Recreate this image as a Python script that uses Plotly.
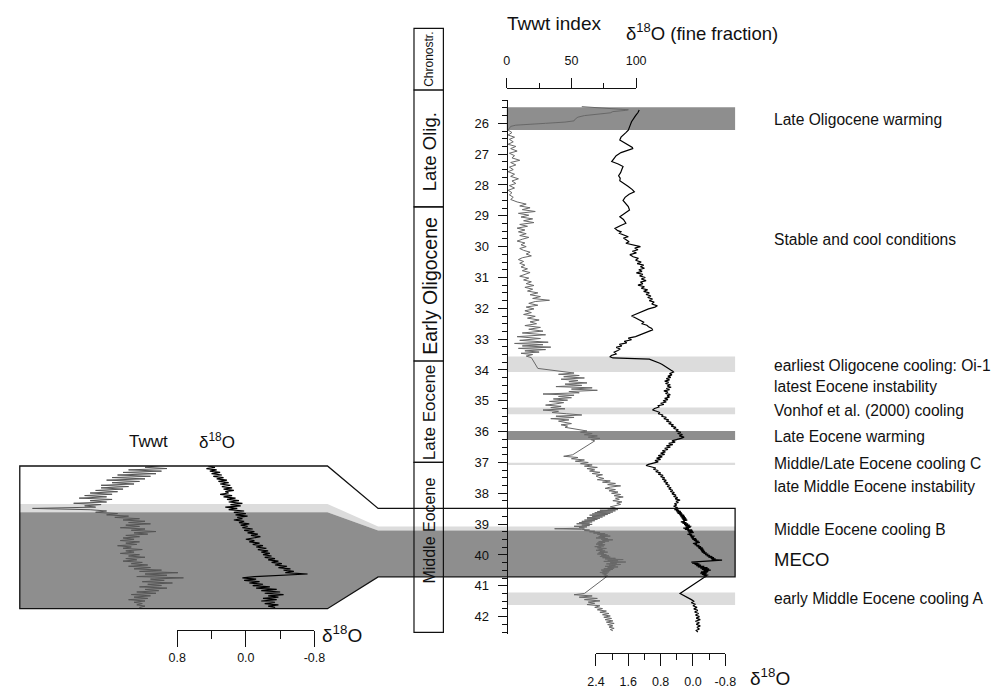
import plotly.graph_objects as go

W, H = 995, 691
FONT = "Liberation Sans, Arial, Helvetica, sans-serif"

# ---------------- data ----------------
twwt_age = [25.46, 25.50, 25.53, 25.56, 25.58, 25.62, 25.66, 25.70, 25.75, 25.80, 25.86, 25.92, 25.96, 26.00, 26.03, 26.06, 26.10, 26.15, 26.22,
            26.30, 26.38, 26.45, 26.52, 26.60, 26.68, 26.75, 26.82, 26.90, 26.97, 27.05, 27.12, 27.20, 27.27, 27.35, 27.42, 27.50, 27.57, 27.65, 27.72, 27.80, 27.87, 27.95, 28.02, 28.10, 28.17, 28.25, 28.32, 28.40, 28.47,
            28.55, 28.62, 28.68, 28.74, 28.80, 28.86, 28.92, 28.98, 29.04, 29.10, 29.16, 29.22, 29.28, 29.34, 29.40, 29.46,
            29.52, 29.58, 29.64, 29.70, 29.76, 29.82, 29.88, 29.94, 30.00, 30.06, 30.12, 30.18, 30.24, 30.30, 30.36, 30.42, 30.48, 30.54, 30.60,
            30.66, 30.72, 30.78, 30.84, 30.90, 30.96, 31.02, 31.08, 31.14, 31.20, 31.26, 31.32, 31.38, 31.44, 31.50,
            31.56, 31.62, 31.68, 31.74, 31.78, 31.84, 31.90, 31.96, 32.02, 32.08, 32.14, 32.20, 32.26, 32.32, 32.38, 32.44, 32.50, 32.56, 32.62, 32.68, 32.74, 32.80, 32.86, 32.92, 32.98, 33.04, 33.10, 33.14, 33.18, 33.22, 33.26, 33.30, 33.34, 33.38, 33.42, 33.46, 33.50, 33.55,
            33.60, 33.95, 34.02,
            34.06, 34.10, 34.14, 34.18, 34.22, 34.26, 34.30, 34.34, 34.38, 34.42, 34.46, 34.50, 34.54, 34.58, 34.62, 34.66, 34.70, 34.74, 34.78, 34.82, 34.86, 34.90, 34.94, 34.98, 35.02, 35.06, 35.10, 35.14, 35.18, 35.22, 35.26, 35.30, 35.34, 35.38,
            35.42, 35.46, 35.50, 35.54, 35.58, 35.62, 35.66, 35.70, 35.74, 35.78, 35.82, 35.86,
            35.90, 35.94, 35.98, 36.02, 36.06, 36.10, 36.14, 36.18, 36.22, 36.26, 36.30,
            36.75, 36.80, 36.84, 36.88, 36.92, 36.96, 37.00, 37.04, 37.08, 37.12, 37.16, 37.20, 37.24, 37.28, 37.32, 37.36, 37.40, 37.44, 37.48,
            37.52, 37.56, 37.60, 37.64, 37.68, 37.72, 37.76, 37.80, 37.84, 37.88, 37.92, 37.96, 38.00, 38.04, 38.08, 38.12, 38.16, 38.20, 38.24, 38.28, 38.32, 38.36, 38.40, 38.44,
            38.48, 38.51, 38.53, 38.55, 38.57, 38.59, 38.61, 38.63, 38.65, 38.67, 38.69, 38.71, 38.73, 38.75, 38.77, 38.79, 38.81, 38.83, 38.85, 38.87, 38.89, 38.91, 38.93, 38.95, 38.97, 38.99,
            39.01, 39.03, 39.05, 39.07, 39.09, 39.11, 39.13, 39.15, 39.17, 39.19, 39.21, 39.23, 39.25, 39.27, 39.29, 39.31, 39.33, 39.35, 39.37, 39.39, 39.41, 39.43, 39.45, 39.47, 39.49,
            39.51, 39.53, 39.55, 39.57, 39.59, 39.61, 39.63, 39.65, 39.67, 39.69, 39.71, 39.73, 39.75, 39.77, 39.79, 39.81, 39.83, 39.85, 39.87, 39.89, 39.91, 39.93, 39.95, 39.97, 39.99,
            40.01, 40.03, 40.05, 40.07, 40.09, 40.11, 40.13, 40.15, 40.17, 40.19, 40.21, 40.23, 40.25, 40.27, 40.29, 40.31, 40.33, 40.35, 40.37, 40.39, 40.41, 40.43, 40.45, 40.47, 40.49,
            40.51, 40.53, 40.55, 40.57, 40.59, 40.61, 40.63, 40.65, 40.67, 40.69, 40.71,
            41.25, 41.29, 41.33, 41.37, 41.41, 41.45, 41.49, 41.53, 41.57, 41.61, 41.65, 41.70,
            41.74, 41.78, 41.82, 41.86, 41.90, 41.94, 41.98, 42.02, 42.06, 42.10, 42.14, 42.18, 42.22, 42.26, 42.30, 42.34, 42.38, 42.42, 42.46]
twwt = [58, 75, 88, 94, 92, 82, 80, 72, 60, 55, 53, 52, 45, 30, 15, 7, 3, 2, 1,
        4, 1, 6, 2, 5, 1, 7, 3, 8, 2, 6, 4, 10, 3, 7, 2, 5, 1, 6, 3, 9, 4, 7, 2, 6, 1, 4, 2, 5, 3,
        8, 15, 10, 18, 12, 22, 9, 17, 11, 20, 13, 21, 10, 16, 8, 14,
        9, 15, 10, 17, 12, 8, 14, 11, 15, 10, 13, 18, 15, 19, 12, 9, 13, 10, 14,
        11, 16, 12, 18, 14, 10, 17, 13, 19, 15, 21, 14, 20, 16, 24,
        18, 26, 20, 33, 22, 17, 24, 15, 21, 14, 19, 13, 22, 16, 25, 18, 23, 14, 26, 17, 28, 12, 30, 8, 26, 10, 32, 6, 28, 12, 34, 9, 30, 14, 25, 11, 20, 15,
        19, 24, 38,
        45, 52, 40, 56, 44, 60, 42, 55, 48, 62, 45, 58, 38, 66, 50, 70, 48, 56, 28, 52, 40, 50, 36, 47, 33, 44, 38, 30, 42, 34, 45, 28, 40, 35,
        46, 58, 38, 52, 34, 48, 40, 44, 50, 42, 47, 45,
        52, 58, 62, 57, 66, 60, 70, 63, 72, 65, 68,
        51, 44, 55, 50, 60, 53, 63, 57, 66, 60, 70, 62, 68, 64, 72, 66, 74, 69, 71,
        75, 70, 80, 74, 84, 78, 88, 80, 76, 84, 79, 86, 81, 88, 83, 90, 84, 87, 82, 89, 85, 88, 84, 80,
        84, 78, 86, 72, 84, 70, 82, 68, 80, 66, 78, 64, 76, 66, 74, 62, 72, 62, 70, 60, 68, 58, 66, 56, 64, 54,
        66, 58, 64, 52, 62, 56, 60, 37, 58, 64, 60, 68, 64, 72, 67, 76, 70, 78, 72, 80, 71, 76, 69, 78, 73,
        82, 74, 79, 71, 76, 70, 74, 69, 76, 71, 75, 68, 73, 70, 77, 71, 74, 69, 76, 72, 78, 71, 75, 70, 77,
        73, 79, 72, 80, 74, 84, 76, 90, 78, 86, 75, 92, 80, 85, 77, 88, 79, 84, 76, 86, 78, 83, 75, 82, 73,
        80, 74, 79, 72, 78, 74, 77, 75, 78, 76, 77,
        60, 52, 66, 56, 70, 60, 72, 63, 68, 62, 72, 68,
        74, 70, 77, 72, 79, 74, 80, 75, 81, 76, 82, 77, 83, 78, 82, 79, 83, 80, 82]

d18o_age = [25.57, 25.65, 25.75, 25.85, 25.95, 26.05, 26.15, 26.22, 26.30, 26.38, 26.45, 26.54, 26.62, 26.70, 26.78, 26.82, 26.88, 26.95, 27.05, 27.15, 27.24, 27.32, 27.40, 27.50, 27.60, 27.70, 27.78, 27.86, 27.95,
            28.05, 28.15, 28.22, 28.30, 28.40, 28.50, 28.60, 28.70, 28.81, 28.92, 29.03, 29.12, 29.24, 29.32, 29.41, 29.48, 29.52, 29.57, 29.62, 29.68, 29.72, 29.78, 29.84, 29.89, 29.94,
            30.00, 30.05, 30.10, 30.15, 30.20, 30.26, 30.33, 30.38, 30.44, 30.50, 30.55, 30.60, 30.65, 30.70, 30.75, 30.80, 30.85, 30.90, 30.95,
            31.00, 31.05, 31.10, 31.15, 31.20, 31.25, 31.30, 31.35, 31.40, 31.45, 31.50, 31.55, 31.60, 31.65, 31.70, 31.75, 31.80, 31.86, 31.92, 31.96,
            32.02, 32.08, 32.14, 32.20, 32.25, 32.30, 32.35, 32.40, 32.45, 32.50, 32.55, 32.60, 32.65, 32.70, 32.75, 32.80, 32.86, 32.92, 32.97,
            33.02, 33.07, 33.12, 33.17, 33.22, 33.27, 33.32, 33.37, 33.42, 33.48, 33.53, 33.57, 33.61, 33.65, 33.70, 33.74, 33.78, 33.82, 33.86, 33.90, 33.95, 34.00, 34.04, 34.07,
            34.12, 34.16, 34.20, 34.24, 34.28, 34.32, 34.36, 34.40, 34.44, 34.48, 34.52, 34.56, 34.60, 34.64, 34.68, 34.72, 34.76, 34.80, 34.84, 34.88, 34.92, 34.96,
            35.00, 35.04, 35.08, 35.12, 35.16, 35.20, 35.25, 35.30, 35.34, 35.38, 35.42, 35.46, 35.50, 35.54, 35.58, 35.62, 35.66, 35.70, 35.74, 35.78, 35.82, 35.86, 35.90, 35.94, 35.98,
            36.02, 36.06, 36.10, 36.14, 36.18, 36.22, 36.26, 36.30, 36.34, 36.38, 36.42, 36.46, 36.50, 36.54, 36.58, 36.62, 36.66, 36.70, 36.74, 36.78, 36.82, 36.86, 36.90, 36.94, 36.98,
            37.02, 37.06, 37.10, 37.14, 37.18, 37.22, 37.26, 37.30, 37.34, 37.38, 37.42, 37.46, 37.50, 37.54, 37.58, 37.62, 37.66, 37.70, 37.74, 37.78, 37.82, 37.86, 37.90, 37.94, 37.98,
            38.02, 38.06, 38.10, 38.14, 38.18, 38.22, 38.26, 38.30, 38.34, 38.38, 38.42, 38.46,
            38.49, 38.51, 38.53, 38.55, 38.57, 38.59, 38.61, 38.63, 38.65, 38.67, 38.69, 38.71, 38.73, 38.75, 38.77, 38.79, 38.81, 38.83, 38.85, 38.87, 38.89, 38.91, 38.93, 38.95, 38.97, 38.99,
            39.01, 39.03, 39.05, 39.07, 39.09, 39.11, 39.13, 39.15, 39.17, 39.19, 39.21, 39.23, 39.25, 39.27, 39.29, 39.31, 39.33, 39.35, 39.37, 39.39, 39.41, 39.43, 39.45, 39.47, 39.49,
            39.51, 39.53, 39.55, 39.57, 39.59, 39.61, 39.63, 39.65, 39.67, 39.69, 39.71, 39.73, 39.75, 39.77, 39.79, 39.81, 39.83, 39.85, 39.87, 39.89, 39.91, 39.93, 39.95, 39.97, 39.99,
            40.01, 40.03, 40.05, 40.07, 40.09, 40.11, 40.13, 40.15, 40.17, 40.19, 40.21, 40.23, 40.25, 40.27, 40.29, 40.31, 40.33, 40.35, 40.37, 40.39, 40.41, 40.43, 40.45, 40.47, 40.49,
            40.51, 40.53, 40.55, 40.57, 40.59, 40.61, 40.63, 40.65, 40.67, 40.69, 40.71,
            41.25, 41.30, 41.35, 41.40, 41.45, 41.50, 41.55, 41.60, 41.65, 41.70, 41.75, 41.80, 41.85, 41.90, 41.95, 42.00, 42.05, 42.10, 42.15, 42.20, 42.25, 42.30, 42.35, 42.40, 42.45, 42.50]
d18o = [1.33, 1.36, 1.42, 1.48, 1.52, 1.55, 1.58, 1.60, 1.66, 1.72, 1.78, 1.81, 1.70, 1.60, 1.50, 1.49, 1.62, 1.78, 1.90, 1.97, 2.01, 1.85, 1.73, 1.76, 1.79, 1.84, 1.80, 1.81, 1.70,
        1.60, 1.50, 1.45, 1.58, 1.68, 1.73, 1.66, 1.60, 1.57, 1.70, 1.81, 1.72, 1.66, 1.80, 1.93, 1.86, 1.78, 1.82, 1.70, 1.60, 1.72, 1.64, 1.58, 1.66, 1.45,
        1.30, 1.44, 1.36, 1.50, 1.40, 1.56, 1.48, 1.35, 1.42, 1.28, 1.38, 1.22, 1.30, 1.20, 1.34, 1.26, 1.40, 1.24, 1.32,
        1.18, 1.28, 1.16, 1.30, 1.24, 1.36, 1.20, 1.28, 1.12, 1.22, 1.08, 1.16, 1.04, 1.12, 1.00, 1.08, 0.96, 1.02, 0.88, 0.94,
        1.10, 1.20, 1.30, 1.42, 1.52, 1.44, 1.36, 1.30, 1.22, 1.26, 1.14, 1.10, 1.02, 1.00, 1.10, 1.22, 1.30, 1.42, 1.60,
        1.52, 1.70, 1.64, 1.82, 1.76, 1.90, 1.80, 1.86, 1.95, 1.90, 2.02, 2.05, 1.98, 1.08, 0.96, 0.88, 0.82, 0.76, 0.72, 0.66, 0.60, 0.55, 0.50, 0.48,
        0.58, 0.52, 0.62, 0.55, 0.66, 0.58, 0.70, 0.60, 0.68, 0.56, 0.64, 0.54, 0.66, 0.58, 0.72, 0.62, 0.68, 0.56, 0.64, 0.58, 0.70, 0.62,
        0.74, 0.66, 0.80, 0.72, 0.86, 0.84, 0.95, 1.00, 0.90, 0.82, 0.86, 0.74, 0.78, 0.66, 0.72, 0.60, 0.66, 0.54, 0.60, 0.48, 0.54, 0.42, 0.48, 0.36, 0.42,
        0.30, 0.38, 0.26, 0.34, 0.22, 0.30, 0.40, 0.52, 0.44, 0.60, 0.50, 0.66, 0.56, 0.70, 0.62, 0.76, 0.68, 0.80, 0.70, 0.86, 0.76, 0.90, 0.80, 0.94, 0.86,
        1.02, 1.10, 1.16, 1.02, 0.92, 0.98, 0.86, 0.92, 0.80, 0.86, 0.74, 0.80, 0.70, 0.76, 0.66, 0.72, 0.62, 0.68, 0.58, 0.64, 0.54, 0.60, 0.50, 0.56, 0.46,
        0.52, 0.42, 0.48, 0.38, 0.44, 0.32, 0.42, 0.36, 0.46, 0.40, 0.48, 0.38,
        0.44, 0.36, 0.46, 0.34, 0.42, 0.30, 0.40, 0.28, 0.38, 0.26, 0.34, 0.22, 0.32, 0.20, 0.30, 0.18, 0.28, 0.16, 0.26, 0.14, 0.24, 0.20, 0.30, 0.16, 0.26, 0.12,
        0.22, 0.08, 0.20, 0.04, 0.18, 0.06, 0.24, 0.10, 0.20, 0.02, 0.14, 0.00, 0.12, -0.02, 0.10, 0.04, 0.14, 0.02, 0.08, -0.04, 0.06, -0.02, 0.04, -0.08, 0.02,
        -0.10, -0.02, -0.14, -0.06, -0.17, -0.08, 0.00, -0.10, -0.04, -0.16, -0.08, -0.20, -0.12, -0.24, -0.14, -0.26, -0.18, -0.28, -0.20, -0.30, -0.22, -0.34, -0.26, -0.38, -0.30,
        -0.42, -0.34, -0.48, -0.38, -0.52, -0.44, -0.56, -0.46, -0.72, -0.40, -0.10, 0.04, -0.12, 0.02, -0.16, -0.04, -0.20, -0.08, -0.28, -0.12, -0.36, -0.18, -0.40, -0.22, -0.44,
        -0.26, -0.38, -0.20, -0.36, -0.18, -0.34, -0.22, -0.38, -0.26, -0.34, -0.30,
        0.32, 0.24, 0.18, 0.10, 0.04, -0.02, 0.04, -0.06, 0.00, -0.10, -0.02, -0.12, -0.04, -0.14, -0.06, -0.16, -0.08, -0.18, -0.06, -0.16, -0.08, -0.18, -0.10, -0.16, -0.08, -0.12]

# chronostratigraphic column (box boundaries in Ma), names and label centres
chrono_bounds = [22.92, 24.92, 28.71, 33.71, 37.00, 42.51]
chrono_names = ["Chronostr.", "Late Olig.", "Early Oligocene", "Late Eocene", "Middle Eocene"]
chrono_label_age = [23.92, 26.92, 31.28, 35.38, 39.22]

# climate events: label, label age, band top, band bottom, shade
event_names = ["Late Oligocene warming", "Stable and cool conditions", "earliest Oligocene cooling: Oi-1",
               "latest Eocene instability", "Vonhof et al. (2000) cooling", "Late Eocene warming",
               "Middle/Late Eocene cooling C", "late Middle Eocene instability", "Middle Eocene cooling B",
               "MECO", "early Middle Eocene cooling A"]
event_label_age = [25.87, 29.78, 33.84, 34.54, 35.30, 36.16, 37.05, 37.79, 39.19, 40.16, 41.41]
band_top = [25.48, None, 33.56, None, 35.22, 35.98, 37.01, None, 39.08, 39.21, 41.22]
band_bottom = [26.22, None, 34.07, None, 35.44, 36.27, 37.08, None, 39.21, 40.71, 41.62]
band_shade = ["dark", None, "light", None, "light", "dark", "light", None, "light", "dark", "light"]

inset_window = [38.49, 40.71]            # expanded interval (Ma)
age_ticks = list(range(26, 43))
twwt_ticks = [0, 50, 100]
twwt_minor = [25, 75]
d18o_ticks = [2.4, 1.6, 0.8, 0.0, -0.8]
d18o_tick_text = ["2.4", "1.6", "0.8", "0.0", "-0.8"]
d18o_minor = [2.0, 1.2, 0.4, -0.4]
inset_ticks = [0.8, 0.0, -0.8]
inset_tick_text = ["0.8", "0.0", "-0.8"]
inset_minor = [0.4, -0.4]

# ---------------- geometry / style ----------------
PX_PER_MA = 30.83
AGE_TOP = 22.0
AGE_BOTTOM = AGE_TOP + H / PX_PER_MA
DARK = "#8e8e8e"
LIGHT = "#dcdcdc"
INK = "#111111"
CHRONO_FONT_SIZES = [12, 18.5, 19.5, 17, 16]

def fx(px):
    return px / W

def fy(py):
    return 1 - py / H

def main_py(age):
    return (age - AGE_TOP) * PX_PER_MA

INSET_TOP, INSET_BOT = 466.0, 608.7
INSET_L, INSET_R, JOIN_X, MAIN_R = 11.0, 325.0, 376.7, 741.0
AXIS_X = 508.0

def inset_py(age):
    return INSET_TOP + (age - inset_window[0]) / (inset_window[1] - inset_window[0]) * (INSET_BOT - INSET_TOP)

age_range = [42.56, 25.24]

fig = go.Figure()

# main curves
fig.add_trace(go.Scatter(x=twwt, y=twwt_age, xaxis="x2", yaxis="y2", mode="lines",
                         line=dict(color="#686868", width=1), hoverinfo="skip", showlegend=False))
fig.add_trace(go.Scatter(x=d18o, y=d18o_age, xaxis="x3", yaxis="y2", mode="lines",
                         line=dict(color="#000000", width=1.2), hoverinfo="skip", showlegend=False))
# inset curves (same data, expanded)
fig.add_trace(go.Scatter(x=twwt, y=twwt_age, xaxis="x4", yaxis="y3", mode="lines",
                         line=dict(color="#555555", width=1), hoverinfo="skip", showlegend=False))
fig.add_trace(go.Scatter(x=d18o, y=d18o_age, xaxis="x5", yaxis="y3", mode="lines",
                         line=dict(color="#000000", width=1.2), hoverinfo="skip", showlegend=False))
# frame axes holder
fig.add_trace(go.Scatter(x=[0.5], y=[30], xaxis="x", yaxis="y", mode="markers",
                         marker=dict(opacity=0), hoverinfo="skip", showlegend=False))

shapes = []

def poly(points):
    return "M " + " L ".join(f"{fx(a):.5f},{fy(b):.5f}" for a, b in points) + " Z"

# bands
for top, bot, shade in zip(band_top, band_bottom, band_shade):
    if top is None:
        continue
    col = DARK if shade == "dark" else LIGHT
    if top >= inset_window[0] and bot <= inset_window[1]:
        pts = [(INSET_L, inset_py(top)), (INSET_R, inset_py(top)), (JOIN_X, main_py(top)), (MAIN_R, main_py(top)),
               (MAIN_R, main_py(bot)), (JOIN_X, main_py(bot)), (INSET_R, inset_py(bot)), (INSET_L, inset_py(bot))]
        shapes.append(dict(type="path", path=poly(pts), xref="paper", yref="paper",
                           fillcolor=col, line=dict(width=0), layer="below"))
    else:
        shapes.append(dict(type="rect", xref="paper", yref="y", x0=fx(AXIS_X), x1=fx(MAIN_R), y0=top, y1=bot,
                           fillcolor=col, line=dict(width=0), layer="below"))

# outline of the expanded window
w0, w1 = inset_window
outline = [(INSET_L, inset_py(w0)), (INSET_R, inset_py(w0)), (JOIN_X, main_py(w0)), (MAIN_R, main_py(w0)),
           (MAIN_R, main_py(w1)), (JOIN_X, main_py(w1)), (INSET_R, inset_py(w1)), (INSET_L, inset_py(w1))]
shapes.append(dict(type="path", path=poly(outline), xref="paper", yref="paper",
                   line=dict(color=INK, width=1.3), layer="above"))

# chronostratigraphic column
for i in range(len(chrono_names)):
    shapes.append(dict(type="rect", xref="paper", yref="y", x0=fx(413.3), x1=fx(443.3),
                       y0=chrono_bounds[i], y1=chrono_bounds[i + 1],
                       line=dict(color=INK, width=1.2), layer="above"))

annotations = []
for i, name in enumerate(chrono_names):
    annotations.append(dict(x=fx(429.3), y=chrono_label_age[i], xref="paper", yref="y",
                            text=name, textangle=-90, showarrow=False, xanchor="center", yanchor="middle",
                            font=dict(family=FONT, size=CHRONO_FONT_SIZES[i], color=INK)))

for name, age in zip(event_names, event_label_age):
    annotations.append(dict(x=fx(779), y=age, xref="paper", yref="y", text=name, showarrow=False,
                            xanchor="left", yanchor="middle",
                            font=dict(family=FONT, size=18.5 if name == "MECO" else 15.6, color=INK)))

def label(px, py, text, size):
    return dict(x=fx(px), y=fy(py), xref="paper", yref="paper", text=text, showarrow=False,
                xanchor="center", yanchor="middle", font=dict(family=FONT, size=size, color=INK))

annotations += [
    label(556, 23, "Twwt index", 19),
    label(707, 32, "δ<sup>18</sup>O (fine fraction)", 18.5),
    label(142, 442, "Twwt", 17),
    label(212, 441, "δ<sup>18</sup>O", 17),
    label(340, 634, "δ<sup>18</sup>O", 19),
    label(777, 677, "δ<sup>18</sup>O", 19),
]

tickfont = dict(family=FONT, size=12.5, color=INK)

# inset Twwt axis scale: 2.8 px per unit, T=37 at x=24 px
T_AT = 37.0
inset_twwt_range = [T_AT - (24 - INSET_L) / 2.8, T_AT + (INSET_R - 24) / 2.8]

fig.update_layout(
    width=W, height=H, autosize=False,
    margin=dict(l=0, r=0, t=0, b=0),
    paper_bgcolor="white", plot_bgcolor="rgba(0,0,0,0)",
    showlegend=False,
    shapes=shapes, annotations=annotations,
    xaxis=dict(domain=[0, 1], range=[0, 1], visible=False, anchor="y", fixedrange=True),
    yaxis=dict(domain=[0, 1], range=[AGE_BOTTOM, AGE_TOP], visible=False, anchor="x", fixedrange=True),
    xaxis2=dict(domain=[fx(AXIS_X), fx(640)], range=[0, 100], anchor="free", position=fy(88.3), side="top",
                showline=True, linecolor=INK, linewidth=1, ticks="outside", ticklen=10, tickwidth=1,
                tickcolor=INK, tickvals=twwt_ticks, ticktext=[str(v) for v in twwt_ticks],
                minor=dict(tickvals=twwt_minor, ticklen=5, ticks="outside", tickcolor=INK),
                showgrid=False, zeroline=False, tickfont=tickfont, ticklabelstandoff=8),
    xaxis3=dict(domain=[fx(599), fx(731)], range=[2.4, -0.8], anchor="free", position=fy(653), side="bottom",
                showline=True, linecolor=INK, linewidth=1, ticks="outside", ticklen=12, tickwidth=1,
                tickcolor=INK, tickvals=d18o_ticks, ticktext=d18o_tick_text,
                minor=dict(tickvals=d18o_minor, ticklen=6, ticks="outside", tickcolor=INK),
                showgrid=False, zeroline=False, tickfont=tickfont, ticklabelstandoff=5),
    yaxis2=dict(domain=[fy(main_py(age_range[0])), fy(main_py(age_range[1]))], range=age_range,
                anchor="free", position=fx(AXIS_X), side="left",
                showline=True, linecolor=INK, linewidth=1.2, ticks="outside", ticklen=9, tickwidth=1,
                tickcolor=INK, tickvals=age_ticks, ticktext=[str(v) for v in age_ticks],
                minor=dict(dtick=0.25, tick0=0, ticklen=5, ticks="outside", tickcolor=INK),
                showgrid=False, zeroline=False, tickfont=dict(family=FONT, size=13, color=INK),
                ticklabelstandoff=6),
    xaxis4=dict(domain=[fx(INSET_L), fx(INSET_R)], range=inset_twwt_range, visible=False, anchor="y3"),
    xaxis5=dict(domain=[fx(171.7), fx(311.7)], range=[0.8, -0.8], anchor="free", position=fy(630), side="bottom",
                showline=True, linecolor=INK, linewidth=1, ticks="outside", ticklen=16, tickwidth=1,
                tickcolor=INK, tickvals=inset_ticks, ticktext=inset_tick_text,
                minor=dict(tickvals=inset_minor, ticklen=8, ticks="outside", tickcolor=INK),
                showgrid=False, zeroline=False, tickfont=tickfont, ticklabelstandoff=0),
    yaxis3=dict(domain=[fy(INSET_BOT), fy(INSET_TOP)], range=[inset_window[1], inset_window[0]],
                visible=False, anchor="x4"),
)

fig.write_html("out.html")
